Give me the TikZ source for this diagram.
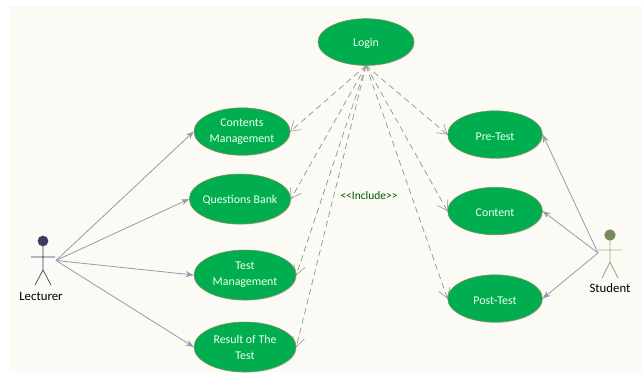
\documentclass[tikz,border=0pt]{standalone}
\usepackage{fontspec}
\setmainfont{Carlito}
\usepackage{xcolor}
\usetikzlibrary{arrows.meta}
\usetikzlibrary{shadows}
\usetikzlibrary{shapes.geometric}
\definecolor{sheetbg}{HTML}{FBFAF5}
\definecolor{casegreen}{HTML}{00AE50}
\definecolor{caseedge}{HTML}{7F8A5A}
\definecolor{assocline}{HTML}{9A98AE}
\definecolor{inclline}{HTML}{8E8E8E}
\definecolor{lecturerink}{HTML}{3F3A5C}
\definecolor{studentink}{HTML}{A3B18A}
\definecolor{studenthead}{HTML}{748A5C}
\tikzset{
  usecase/.style={ellipse,draw=caseedge,line width=0.4pt,fill=casegreen,text=green!6,inner sep=0pt,align=center,execute at begin node={\rule{0pt}{8.5pt}},font=\fontsize{8.9}{12}\selectfont,drop shadow={shadow xshift=0.6pt,shadow yshift=-0.6pt,opacity=0.25}},
  twoline/.style={execute at begin node={\vspace*{2.5pt}}},
  assoc/.style={draw=assocline,line width=0.6pt,-{Stealth[length=6pt,width=4.5pt]}},
  incl/.style={draw=inclline,line width=0.5pt,dash pattern=on 4.5pt off 3pt,-{Straight Barb[length=7pt,width=9pt,line width=0.4pt]}},
  actorlabel/.style={text=black,inner sep=0.75pt,font=\fontsize{9.6}{11}\selectfont},
}
\begin{document}
\begin{tikzpicture}[x=0.75pt,y=0.75pt,yscale=-1,xscale=1]
\useasboundingbox (0,0) rectangle (642,372);
\fill [white] (0,0) rectangle (642,372);
\fill [sheetbg] (9,6) rectangle (642,372);

%use cases, left column
\node [usecase,minimum width=72pt,minimum height=35pt] (login) at (366,42) {Login};
\node [usecase,twoline,minimum width=72pt,minimum height=35.5pt] (contents) at (242,131.5) {Contents\\Management};
\node [usecase,minimum width=76pt,minimum height=37.5pt] (questions) at (240,199) {\makebox[50pt][c]{Questions Bank}};
\node [usecase,twoline,minimum width=76.5pt,minimum height=37.5pt] (testmgmt) at (245,275) {Test\\Management};
\node [usecase,twoline,minimum width=76.5pt,minimum height=37.5pt] (result) at (245,347) {Result of The\\Test};
%use cases, right column
\node [usecase,minimum width=71pt,minimum height=35.5pt] (pretest) at (495,134.5) {Pre-Test};
\node [usecase,minimum width=71pt,minimum height=35.5pt] (content) at (495,211) {Content};
\node [usecase,minimum width=71pt,minimum height=35.5pt] (posttest) at (495,298.5) {Post-Test};

%actor: lecturer
\draw [lecturerink,line width=0.5pt] (43,246) -- (43,270) (31,257) -- (55,257) (35,285) -- (43,270) -- (51,285);
\node [circle,fill=lecturerink,inner sep=0pt,minimum size=8pt] (lecturerhead) at (43,241) {};
\node [actorlabel] (lecturerlabel) at (41,296) {Lecturer};
\coordinate (lecturer) at (56,260.5);

%actor: student
\draw [studentink,line width=0.7pt] (610,235) -- (610,262) (598,250) -- (622,250) (602,278) -- (610,262) -- (618,278);
\node [circle,fill=studenthead,inner sep=0pt,minimum size=8.5pt] (studenthd) at (610,235) {};
\node [actorlabel] (studentlabel) at (610,288) {Student};
\coordinate (student) at (598,253);

%associations
\draw [assoc] (lecturer) -- (contents.west);
\draw [assoc] (lecturer) -- (questions.west);
\draw [assoc] (lecturer) -- (testmgmt.west);
\draw [assoc] (lecturer) -- (result.west);
\draw [assoc] (student) -- (pretest.east);
\draw [assoc] (student) -- (content.east);
\draw [assoc] (student) -- (posttest.east);

%include
\draw [incl] (login.south) -- (contents.east);
\draw [incl] (login.south) -- (questions.east);
\draw [incl] (login.south) -- (testmgmt.east);
\draw [incl] (login.south) -- (result.east);
\draw [incl] (login.south) -- (pretest.west);
\draw [incl] (login.south) -- (content.west);
\draw [incl] (login.south) -- (posttest.west);

\node [text=black!65!green,inner sep=0.75pt,font=\fontsize{8.6}{10}\selectfont] (includelabel) at (369,195.5) {{<}{<}Include{>}{>}};
\end{tikzpicture}
\end{document}
